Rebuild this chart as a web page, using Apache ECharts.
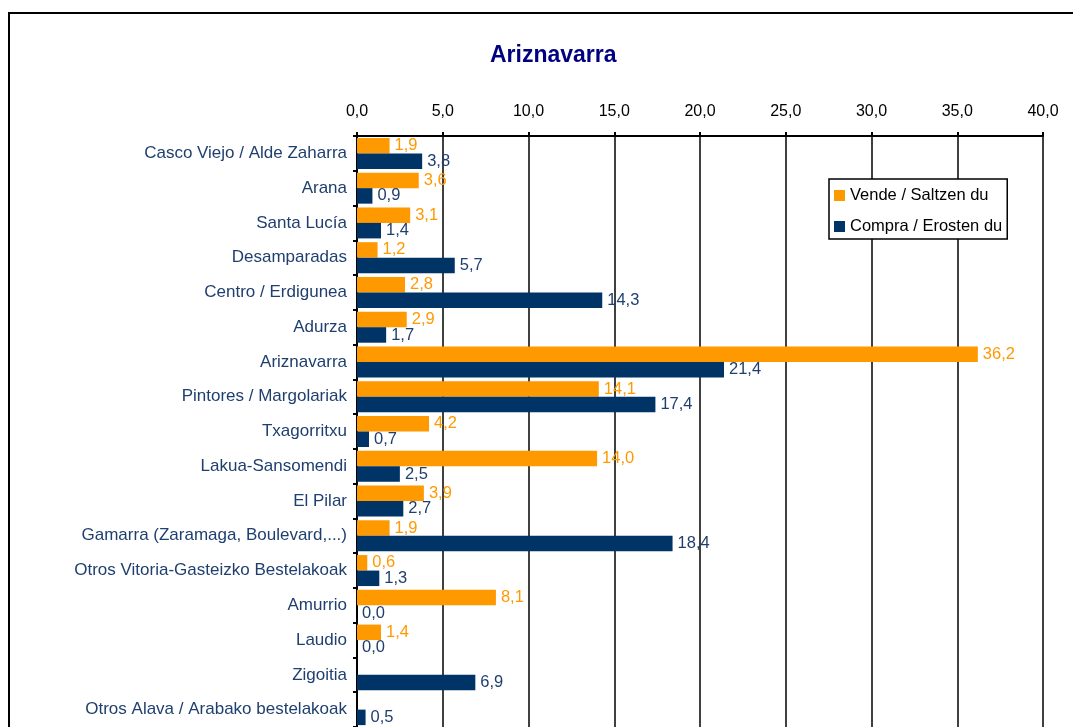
<!DOCTYPE html>
<html>
<head>
<meta charset="utf-8">
<script src="https://cdn.jsdelivr.net/npm/echarts@6/dist/echarts.min.js"></script>
<style>
  html, body { margin: 0; padding: 0; background: #fff; }
  #chart { width: 1073px; height: 727px; }
</style>
</head>
<body>
<div id="chart"></div>
<script>
// datos
var categories = [
    'Casco Viejo / Alde Zaharra', 'Arana', 'Santa Lucía', 'Desamparadas',
    'Centro / Erdigunea', 'Adurza', 'Ariznavarra', 'Pintores / Margolariak',
    'Txagorritxu', 'Lakua-Sansomendi', 'El Pilar', 'Gamarra (Zaramaga, Boulevard,...)',
    'Otros Vitoria-Gasteizko Bestelakoak', 'Amurrio', 'Laudio', 'Zigoitia',
    'Otros Alava / Arabako bestelakoak'
];
var vende = [1.9, 3.6, 3.1, 1.2, 2.8, 2.9, 36.2, 14.1, 4.2, 14.0, 3.9, 1.9, 0.6, 8.1, 1.4, null, null];
var compra = [3.8, 0.9, 1.4, 5.7, 14.3, 1.7, 21.4, 17.4, 0.7, 2.5, 2.7, 18.4, 1.3, 0.0, 0.0, 6.9, 0.5];
var seriesNames = ['Vende / Saltzen du', 'Compra / Erosten du'];

var fmt = function(v) { return v.toFixed(1).replace('.', ','); };

var chart = echarts.init(document.getElementById('chart'));
chart.setOption({
    backgroundColor: '#fff',
    textStyle: { fontFamily: 'Liberation Sans, Arial, sans-serif' },
    title: {
        text: 'Ariznavarra',
        left: 485,
        top: 39,
        textStyle: { color: '#000080', fontSize: 23, fontWeight: 'bold' }
    },
    graphic: [{
        type: 'rect',
        shape: { x: 9, y: 13, width: 1200, height: 900 },
        style: { fill: 'none', stroke: '#000', lineWidth: 2 },
        silent: true
    }],
    legend: {
        orient: 'vertical',
        left: 829,
        top: 179,
        itemWidth: 11,
        itemHeight: 11,
        itemGap: 14,
        padding: [8, 5, 4, 5],
        backgroundColor: '#fff',
        borderColor: '#000',
        borderWidth: 1.5,
        textStyle: { color: '#000', fontSize: 16.5 },
        data: [
            { name: seriesNames[0], icon: 'rect' },
            { name: seriesNames[1], icon: 'rect' }
        ]
    },
    grid: { left: 357, right: 30, top: 136, bottom: -4, containLabel: false },
    xAxis: {
        type: 'value',
        position: 'top',
        min: 0, max: 40, interval: 5,
        axisLine: { show: true, lineStyle: { color: '#000', width: 2 } },
        axisTick: { show: true, length: 4, lineStyle: { color: '#000', width: 2 } },
        axisLabel: { color: '#000', fontSize: 16, margin: 16, formatter: fmt },
        splitLine: { show: true, lineStyle: { color: '#000', width: 1.5 } }
    },
    yAxis: {
        type: 'category',
        inverse: true,
        data: categories,
        axisLine: { show: true, lineStyle: { color: '#000', width: 2 } },
        axisTick: { show: true, length: 4, lineStyle: { color: '#000', width: 2 } },
        axisLabel: { color: '#1f3f6f', fontSize: 17, margin: 10 }
    },
    series: [
        {
            name: seriesNames[0], type: 'bar', data: vende,
            barWidth: 15.5, barGap: '0%',
            itemStyle: { color: '#ff9900' },
            label: { show: true, position: 'right', distance: 5, color: '#ff9900', fontSize: 16.5,
                     formatter: function(p) { return fmt(p.value); } }
        },
        {
            name: seriesNames[1], type: 'bar', data: compra,
            barWidth: 15.5, barGap: '0%',
            itemStyle: { color: '#003366' },
            label: { show: true, position: 'right', distance: 5, color: '#1f3f6f', fontSize: 16.5,
                     formatter: function(p) { return fmt(p.value); } }
        }
    ],
    animation: false
});
</script>
</body>
</html>
